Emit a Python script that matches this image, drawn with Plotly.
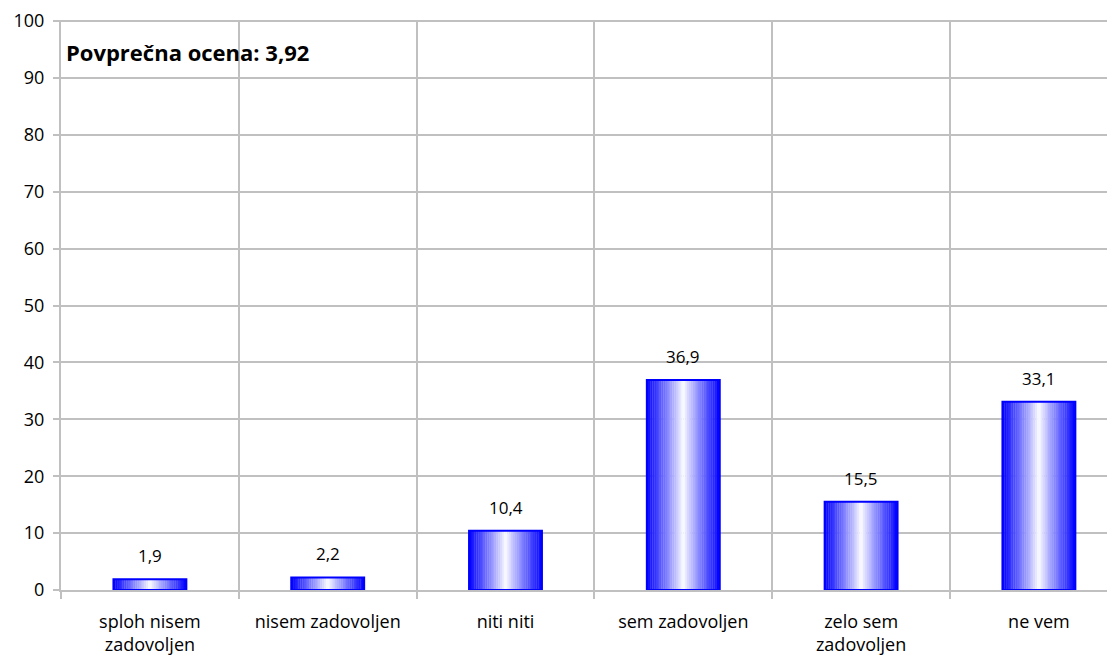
import plotly.graph_objects as go

# Data
categories = ["sploh nisem<br>zadovoljen", "nisem zadovoljen", "niti niti",
              "sem zadovoljen", "zelo sem<br>zadovoljen", "ne vem"]
values = [1.9, 2.2, 10.4, 36.9, 15.5, 33.1]
value_labels = ["1,9", "2,2", "10,4", "36,9", "15,5", "33,1"]
y_ticks = [0, 10, 20, 30, 40, 50, 60, 70, 80, 90, 100]
avg_text = "Povprečna ocena: 3,92"

FONT = "Open Sans"
GRID = "#C0C0C0"
BAR_W = 0.41
N_STRIPES = 40

fig = go.Figure()

# --- gradient fill: thin stripes blue -> white -> blue ---
step = BAR_W / N_STRIPES
for i in range(N_STRIPES):
    t = (i + 0.5) / N_STRIPES
    d = abs(t - 0.5) / 0.5          # 0 at centre, 1 at edge
    k = d ** 0.9
    r = g = int(round(255 * (1 - k)))
    color = f"rgb({r},{g},255)"
    fig.add_trace(go.Bar(
        x=categories, y=values,
        width=step * 1.15 if i < N_STRIPES - 1 else step,
        offset=-BAR_W / 2 + i * step,
        marker=dict(color=color, line=dict(width=0)),
        hoverinfo="skip", showlegend=False,
    ))

# outline
fig.add_trace(go.Bar(
    x=categories, y=values,
    width=BAR_W, offset=-BAR_W / 2,
    marker=dict(color="rgba(0,0,0,0)", line=dict(color="#0000FF", width=2)),
    showlegend=False,
))

# value labels above the bars
for c, v, lab in zip(categories, values, value_labels):
    fig.add_annotation(x=c, y=v, text=lab, showarrow=False,
                       yanchor="bottom", yshift=10,
                       font=dict(family=FONT, size=17, color="#000000"))

fig.add_annotation(xref="paper", yref="paper", x=0.003, y=0.944,
                   xanchor="left", yanchor="middle", showarrow=False,
                   text=f"<b>{avg_text}</b>",
                   font=dict(family=FONT, size=22, color="#000000"))

# page body has an 8px default margin, so margins are trimmed to match
fig.update_layout(
    width=1115, height=660,
    margin=dict(l=53, r=0, t=12, b=78),
    paper_bgcolor="white", plot_bgcolor="white",
    barmode="overlay",
    font=dict(family=FONT, size=18, color="#000000"),
    showlegend=False,
)
fig.update_xaxes(
    type="category", range=[-0.5, 5.473], automargin=False,
    tickson="boundaries", ticks="outside", ticklen=7, tickwidth=2, tickcolor=GRID,
    showgrid=True, gridcolor=GRID, gridwidth=2,
    showline=True, linecolor=GRID, linewidth=2,
    ticklabelstandoff=14,
)
fig.update_yaxes(
    range=[0, 100.2], tickvals=y_ticks, automargin=False,
    ticks="outside", ticklen=6, tickwidth=2, tickcolor=GRID,
    showgrid=True, gridcolor=GRID, gridwidth=2,
    showline=True, linecolor=GRID, linewidth=2,
    zeroline=False, ticklabelstandoff=5, ticklabeloverflow="allow",
)

fig.write_html("out.html")
